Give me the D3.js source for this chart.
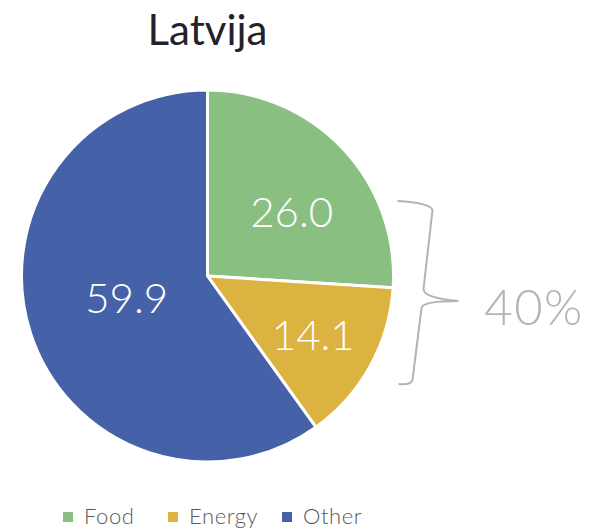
<!DOCTYPE html>
<html>
<head>
<meta charset="utf-8">
<script src="https://cdn.jsdelivr.net/npm/d3@7"></script>
<style>
  body { margin: 0; background: #fff; }
  text { font-family: Lato, "Open Sans", sans-serif; }
</style>
</head>
<body>
<div id="vis-container"></div>
<script>
// chart data
var title = "Latvija";
var categories = ["Food", "Energy", "Other"];
var values = [26.0, 14.1, 59.9];
var colors = ["#89bf80", "#dcb240", "#4562a8"];

var width = 592,
  height = 530;

var cx = 207.5,
  cy = 276,
  r = 186;

var svg = d3
  .select("#vis-container")
  .append("svg")
  .attr("width", width)
  .attr("height", height);

// title
svg
  .append("text")
  .attr("x", cx)
  .attr("y", 45)
  .attr("text-anchor", "middle")
  .style("font-size", "42px")
  .style("fill", "#22222c")
  .text(title);

var data = categories.map((c, i) => ({ name: c, value: values[i], color: colors[i] }));

var pie = d3.pie().sort(null).value((d) => d.value);
var arcs = pie(data);

var arc = d3.arc().innerRadius(0).outerRadius(r);

var g = svg.append("g").attr("transform", "translate(" + cx + "," + cy + ")");

g.selectAll("path")
  .data(arcs)
  .enter()
  .append("path")
  .attr("d", arc)
  .attr("fill", (d) => d.data.color)
  .attr("stroke", "#fff")
  .attr("stroke-width", 3)
  .attr("stroke-linejoin", "round");

// label radius tweak per slice (roughly matches the original placement)
var labelRadius = { Food: 0.57, Energy: 0.65, Other: 0.45 };
var labelAngleShift = { Food: 0.1, Energy: 0, Other: 0.05 };

g.selectAll("text.val")
  .data(arcs)
  .enter()
  .append("text")
  .attr("class", "val")
  .attr("x", (d) => {
    var a = (d.startAngle + d.endAngle) / 2 + labelAngleShift[d.data.name];
    return Math.sin(a) * r * labelRadius[d.data.name];
  })
  .attr("y", (d) => {
    var a = (d.startAngle + d.endAngle) / 2 + labelAngleShift[d.data.name];
    return -Math.cos(a) * r * labelRadius[d.data.name];
  })
  .attr("dy", "0.36em")
  .attr("text-anchor", "middle")
  .style("font-size", "42px")
  .style("font-weight", 300)
  .style("fill", "#fff")
  .text((d) => d3.format(".1f")(d.data.value));

// brace around Food + Energy
var bx = cx + r; // pie right edge
var brace = [
  "M", bx + 4, cy - 75,
  "Q", bx + 37, cy - 73, bx + 39, cy - 66,
  "L", bx + 30, cy + 13,
  "Q", bx + 30, cy + 22, bx + 65, cy + 25,
  "Q", bx + 29, cy + 25, bx + 28, cy + 32,
  "L", bx + 19, cy + 104,
  "Q", bx + 18, cy + 109, bx + 5, cy + 108
].join(" ");

svg
  .append("path")
  .attr("d", brace)
  .attr("fill", "none")
  .attr("stroke", "#b3b3b3")
  .attr("stroke-width", 2);

svg
  .append("text")
  .attr("x", 534)
  .attr("y", 325)
  .attr("text-anchor", "middle")
  .style("font-size", "49px")
  .style("font-weight", 300)
  .style("letter-spacing", "1.5px")
  .style("fill", "#b3b3b3")
  .text(d3.format(".0f")(values[0] + values[1]) + "%");

// legend
var legend = svg
  .append("g")
  .attr("transform", "translate(63,524)");

var legendX = [0, 105, 219];

var items = legend
  .selectAll("g")
  .data(data)
  .enter()
  .append("g")
  .attr("transform", (d, i) => "translate(" + legendX[i] + ",0)");

items
  .append("rect")
  .attr("x", 0)
  .attr("y", -12)
  .attr("width", 10)
  .attr("height", 10)
  .attr("fill", (d) => d.color);

items
  .append("text")
  .attr("x", 21)
  .attr("y", 0)
  .style("font-size", "22px")
  .style("font-weight", 300)
  .style("letter-spacing", "0.6px")
  .style("fill", "#595959")
  .text((d) => d.name);
</script>
</body>
</html>
